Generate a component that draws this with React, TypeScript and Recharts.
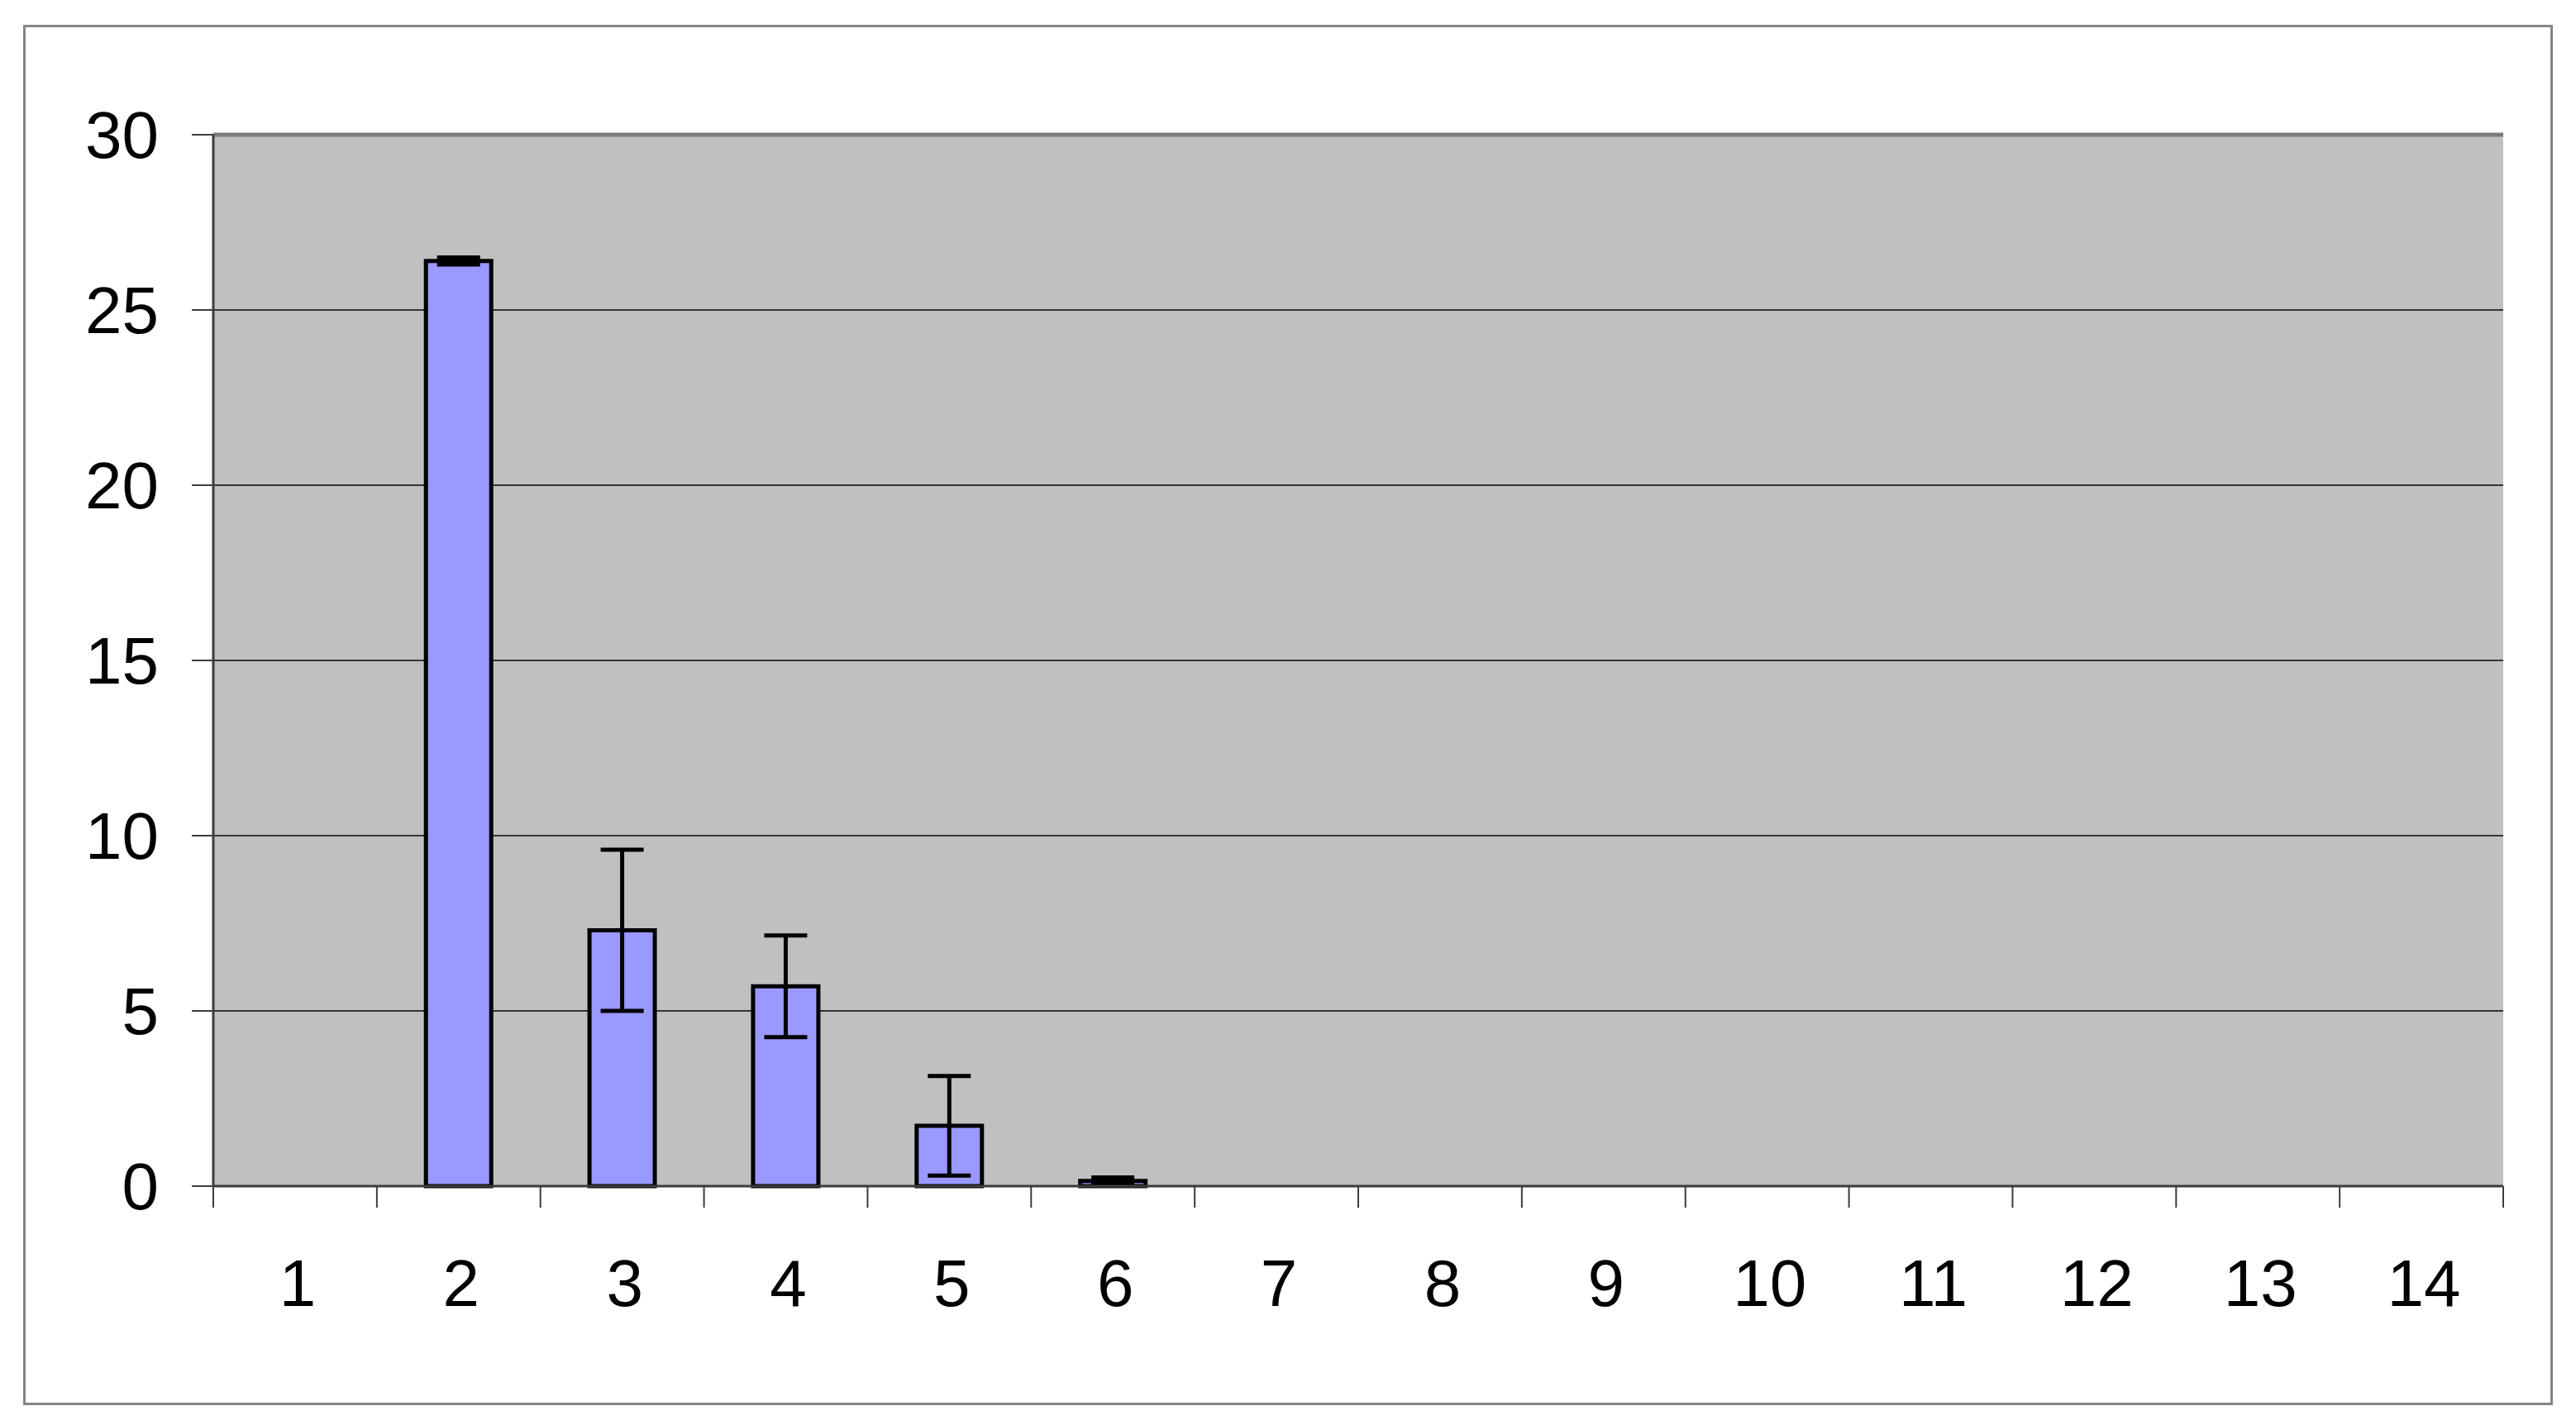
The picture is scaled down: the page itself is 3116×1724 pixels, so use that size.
import React from "react";
import {
  BarChart,
  Bar,
  XAxis,
  YAxis,
  CartesianGrid,
  ErrorBar,
  ReferenceLine,
} from "recharts";

const categories = ["1", "2", "3", "4", "5", "6", "7", "8", "9", "10", "11", "12", "13", "14"];
const values = [0, 26.4, 7.3, 5.7, 1.72, 0.15, 0, 0, 0, 0, 0, 0, 0, 0];
const errors = [0, 0.1, 2.3, 1.45, 1.42, 0.1, 0, 0, 0, 0, 0, 0, 0, 0];
const yTicks = [0, 5, 10, 15, 20, 25, 30];

const data = categories.map((cat, i) => ({ cat, value: values[i], err: errors[i] }));

const W = 3116;
const H = 1724;
const FONT = "'Liberation Sans', Arial, sans-serif";
const TICK_SIZE = 26;
const X_TICK_GAP = 62;
const PLOT_LEFT = 258;
const PLOT_RIGHT = 3028;
const AXIS_COLOR = "#3c3c3c";

function CategoryTick(props: any) {
  const { x, y, payload, index } = props;
  const half =
    payload && typeof payload.offset === "number" && payload.offset > 0
      ? payload.offset
      : (PLOT_RIGHT - PLOT_LEFT) / categories.length / 2;
  const axisY = y - TICK_SIZE - X_TICK_GAP;
  return (
    <g>
      <line x1={x - half} x2={x - half} y1={axisY} y2={axisY + TICK_SIZE} stroke={AXIS_COLOR} strokeWidth={2} />
      {index === categories.length - 1 && (
        <line x1={x + half} x2={x + half} y1={axisY} y2={axisY + TICK_SIZE} stroke={AXIS_COLOR} strokeWidth={2} />
      )}
      <text x={x + 3} y={y} dy="0.71em" textAnchor="middle" fill="#000" fontSize={80} fontFamily={FONT}>
        {payload.value}
      </text>
    </g>
  );
}

export default function App() {
  return (
    <div style={{ position: "absolute", left: 0, top: 0, width: W, height: H, background: "#fff" }}>
      <div
        style={{
          position: "absolute",
          left: 28,
          top: 30,
          width: 3060,
          height: 1670,
          border: "3px solid #858585",
          boxSizing: "border-box",
        }}
      />
      <div style={{ position: "absolute", left: 0, top: 0 }}>
        <BarChart
          width={W}
          height={H}
          data={data}
          barCategoryGap="30%"
          margin={{ top: 163, right: W - PLOT_RIGHT, bottom: 139, left: PLOT_LEFT - 200 }}
        >
          <CartesianGrid vertical={false} fill="#c0c0c0" stroke="#353535" strokeWidth={2} />
          <XAxis
            dataKey="cat"
            interval={0}
            height={150}
            tickLine={false}
            tickSize={TICK_SIZE}
            tickMargin={X_TICK_GAP}
            axisLine={{ stroke: AXIS_COLOR, strokeWidth: 3 }}
            tick={<CategoryTick />}
          />
          <YAxis
            type="number"
            domain={[0, 30]}
            ticks={yTicks}
            interval={0}
            width={200}
            tickSize={TICK_SIZE}
            tickMargin={40}
            axisLine={{ stroke: AXIS_COLOR, strokeWidth: 3 }}
            tickLine={{ stroke: AXIS_COLOR, strokeWidth: 2 }}
            tick={{ fill: "#000", fontSize: 80, fontFamily: FONT }}
          />
          <YAxis
            yAxisId="frame"
            orientation="right"
            type="number"
            domain={[0, 30]}
            width={0}
            tick={false}
            tickLine={false}
            axisLine={{ stroke: "#7a7a7a", strokeWidth: 5 }}
          />
          <ReferenceLine y={30} stroke="#7a7a7a" strokeWidth={5} />
          <Bar
            dataKey="value"
            fill="#9999ff"
            stroke="#000"
            strokeWidth={5}
            isAnimationActive={false}
          >
            <ErrorBar dataKey="err" width={26} stroke="#000" strokeWidth={5} isAnimationActive={false} />
          </Bar>
        </BarChart>
      </div>
    </div>
  );
}
